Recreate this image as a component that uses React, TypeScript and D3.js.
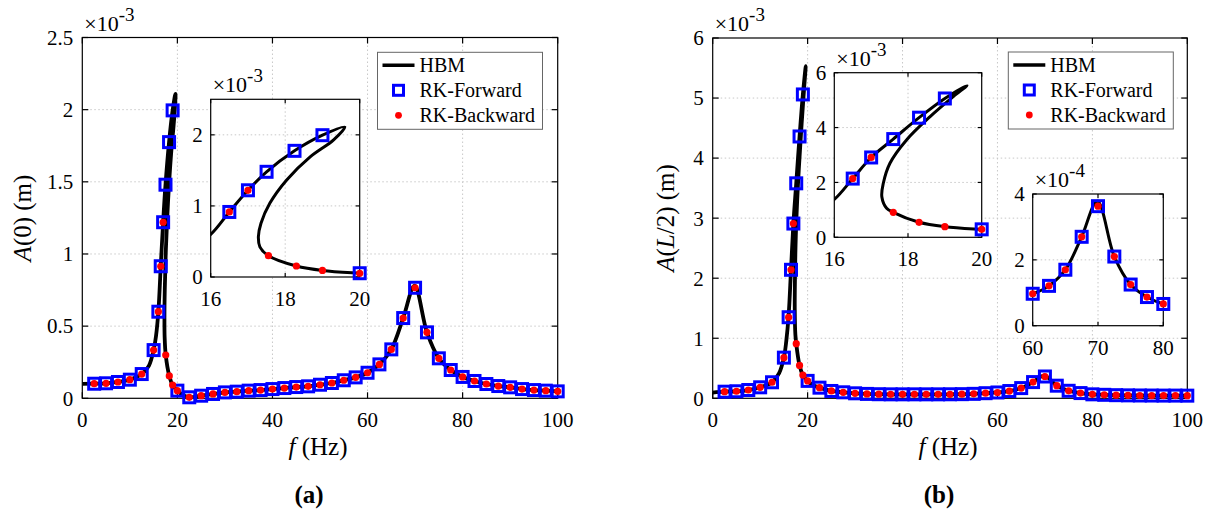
import React, { useEffect, useRef } from "react";
import * as d3 from "d3";

const FONT = "Liberation Serif";

// ---- panel (a): A(0), amplitudes in 1e-3 m ----
const hbmFreqA = [0, 2.5, 5, 7.5, 10, 12.5, 14, 15, 15.5, 16, 16.5, 17, 17.5, 18.25, 19, 19.6,
  19.3, 18.67, 18.04, 17.59, 17.35, 17.28, 17.32, 17.55, 18.3, 19, 20, 21.2, 22.5, 25, 27.5, 30,
  32.5, 35, 37.5, 40, 42.5, 45, 47.5, 50, 52.5, 55, 57.5, 60, 62.5, 65, 67.5, 69.9, 72.5, 75,
  77.5, 80, 82.5, 85, 87.5, 90, 92.5, 95, 97.5, 100];
const hbmAmpA = [0.1, 0.101, 0.104, 0.113, 0.129, 0.168, 0.225, 0.334, 0.43, 0.6, 0.915, 1.22,
  1.48, 1.775, 1.995, 2.11, 1.93, 1.69, 1.366, 1.04, 0.756, 0.566, 0.425, 0.3, 0.155, 0.092,
  0.053, 0.022, 0.007, 0.018, 0.03, 0.041, 0.046, 0.053, 0.057, 0.064, 0.071, 0.078, 0.083,
  0.094, 0.106, 0.125, 0.145, 0.177, 0.235, 0.339, 0.556, 0.78, 0.457, 0.277, 0.196, 0.148,
  0.12, 0.099, 0.085, 0.076, 0.064, 0.057, 0.053, 0.048];

const fwdFreqA = [2.5, 5, 7.5, 10, 12.5, 15, 16, 16.5, 17, 17.5, 18.25, 19, 20, 22.5, 25, 27.5,
  30, 32.5, 35, 37.5, 40, 42.5, 45, 47.5, 50, 52.5, 55, 57.5, 60, 62.5, 65, 67.5, 70, 72.5, 75,
  77.5, 80, 82.5, 85, 87.5, 90, 92.5, 95, 97.5, 100];
const fwdAmpA = [0.101, 0.104, 0.113, 0.129, 0.168, 0.334, 0.6, 0.915, 1.22, 1.48, 1.775, 1.995,
  0.053, 0.007, 0.018, 0.03, 0.041, 0.046, 0.053, 0.057, 0.064, 0.071, 0.078, 0.083, 0.094,
  0.106, 0.125, 0.145, 0.177, 0.235, 0.339, 0.556, 0.766, 0.457, 0.277, 0.196, 0.148, 0.12,
  0.099, 0.085, 0.076, 0.064, 0.057, 0.053, 0.048];

const bwdFreqA = [2.5, 5, 7.5, 10, 12.5, 15, 16, 16.5, 17, 17.55, 18.3, 19, 20, 22.5, 25, 27.5,
  30, 32.5, 35, 37.5, 40, 42.5, 45, 47.5, 50, 52.5, 55, 57.5, 60, 62.5, 65, 67.5, 70, 72.5, 75,
  77.5, 80, 82.5, 85, 87.5, 90, 92.5, 95, 97.5, 100];
const bwdAmpA = [0.101, 0.104, 0.113, 0.129, 0.168, 0.334, 0.6, 0.915, 1.22, 0.3, 0.155, 0.092,
  0.053, 0.007, 0.018, 0.03, 0.041, 0.046, 0.053, 0.057, 0.064, 0.071, 0.078, 0.083, 0.094,
  0.106, 0.125, 0.145, 0.177, 0.235, 0.339, 0.556, 0.766, 0.457, 0.277, 0.196, 0.148, 0.12,
  0.099, 0.085, 0.076, 0.064, 0.057, 0.053, 0.048];

// ---- panel (b): A(L/2), amplitudes in 1e-3 m ----
const hbmFreqB = [0, 2.5, 5, 7.5, 10, 12.5, 14, 15, 15.5, 16, 16.5, 17, 17.6, 18.3, 19, 19.6,
  19.23, 18.6, 17.96, 17.51, 17.33, 17.29, 17.42, 17.6, 18.3, 19, 20, 21, 22.5, 25, 27.5, 30,
  32.5, 35, 37.5, 40, 42.5, 45, 47.5, 50, 52.5, 55, 57.5, 60, 62.5, 65, 67.5, 69.9, 72.5, 75,
  77.5, 80, 82.5, 85, 87.5, 90, 92.5, 95, 97.5, 100];
const hbmAmpB = [0.095, 0.11, 0.117, 0.138, 0.183, 0.267, 0.42, 0.677, 0.95, 1.38, 2.14, 2.91,
  3.58, 4.36, 5.06, 5.53, 5.13, 4.4, 3.55, 2.7, 1.97, 1.48, 1.06, 0.91, 0.547, 0.387, 0.29,
  0.225, 0.177, 0.122, 0.1, 0.083, 0.073, 0.068, 0.066, 0.066, 0.066, 0.066, 0.066, 0.067,
  0.069, 0.074, 0.085, 0.097, 0.121, 0.17, 0.27, 0.378, 0.21, 0.125, 0.087, 0.066, 0.058,
  0.052, 0.049, 0.047, 0.046, 0.045, 0.045, 0.044];

const fwdFreqB = [2.5, 5, 7.5, 10, 12.5, 15, 16, 16.5, 17, 17.6, 18.3, 19, 20, 22.5, 25, 27.5,
  30, 32.5, 35, 37.5, 40, 42.5, 45, 47.5, 50, 52.5, 55, 57.5, 60, 62.5, 65, 67.5, 70, 72.5, 75,
  77.5, 80, 82.5, 85, 87.5, 90, 92.5, 95, 97.5, 100];
const fwdAmpB = [0.11, 0.117, 0.138, 0.183, 0.267, 0.677, 1.35, 2.14, 2.91, 3.58, 4.36, 5.06,
  0.29, 0.177, 0.122, 0.1, 0.083, 0.073, 0.068, 0.066, 0.066, 0.066, 0.066, 0.066, 0.067, 0.069,
  0.074, 0.085, 0.097, 0.121, 0.17, 0.27, 0.363, 0.21, 0.125, 0.087, 0.066, 0.058, 0.052, 0.049,
  0.047, 0.046, 0.045, 0.045, 0.044];

const bwdFreqB = [2.5, 5, 7.5, 10, 12.5, 15, 16, 16.5, 17, 17.6, 18.3, 19, 20, 22.5, 25, 27.5,
  30, 32.5, 35, 37.5, 40, 42.5, 45, 47.5, 50, 52.5, 55, 57.5, 60, 62.5, 65, 67.5, 70, 72.5, 75,
  77.5, 80, 82.5, 85, 87.5, 90, 92.5, 95, 97.5, 100];
const bwdAmpB = [0.11, 0.117, 0.138, 0.183, 0.267, 0.677, 1.35, 2.14, 2.91, 0.91, 0.547, 0.387,
  0.29, 0.177, 0.122, 0.1, 0.083, 0.073, 0.068, 0.066, 0.066, 0.066, 0.066, 0.066, 0.067, 0.069,
  0.074, 0.085, 0.097, 0.121, 0.17, 0.27, 0.363, 0.21, 0.125, 0.087, 0.066, 0.058, 0.052, 0.049,
  0.047, 0.046, 0.045, 0.045, 0.044];

// ---- ticks & labels ----
const xTicksMain = [0, 20, 40, 60, 80, 100];
const yTicksA = [0, 0.5, 1, 1.5, 2, 2.5];
const yTicksB = [0, 1, 2, 3, 4, 5, 6];
const xTicksFold = [16, 18, 20];
const yTicksFoldA = [0, 1, 2];
const yTicksFoldB = [0, 2, 4, 6];
const xTicksPeak = [60, 70, 80];
const yTicksPeak = [0, 2, 4];
const legendLabels = ["HBM", "RK-Forward", "RK-Backward"];

type Pt = [number, number];
const zip = (f: number[], a: number[], k = 1): Pt[] => f.map((v, i) => [v, a[i] * k]);

let clipCount = 0;

function drawAxes(svg: any, o: any) {
  const { left, top, width, height } = o;
  const x = d3.scaleLinear().domain(o.xDomain).range([left, left + width]);
  const y = d3.scaleLinear().domain(o.yDomain).range([top + height, top]);
  const g = svg.append("g");
  const tick = o.tick;

  g.append("rect")
    .attr("x", left).attr("y", top).attr("width", width).attr("height", height)
    .attr("fill", "#fff");

  // dotted grid
  const grid = g.append("g")
    .attr("stroke", "#c8c8c8").attr("stroke-width", 1).attr("stroke-dasharray", "1.5,2.5");
  grid.selectAll("line.gx")
    .data(o.xTicks.filter((t: number) => t > o.xDomain[0] && t < o.xDomain[1]))
    .join("line")
    .attr("x1", (d: number) => x(d)).attr("x2", (d: number) => x(d))
    .attr("y1", top).attr("y2", top + height);
  grid.selectAll("line.gy")
    .data(o.yTicks.filter((t: number) => t > o.yDomain[0] && t < o.yDomain[1]))
    .join("line")
    .attr("x1", left).attr("x2", left + width)
    .attr("y1", (d: number) => y(d)).attr("y2", (d: number) => y(d));

  // box + inward ticks on all sides
  g.append("rect")
    .attr("x", left).attr("y", top).attr("width", width).attr("height", height)
    .attr("fill", "none").attr("stroke", "#000").attr("stroke-width", 1.2);
  const tg = g.append("g").attr("stroke", "#000").attr("stroke-width", 1.2);
  o.xTicks.forEach((t: number) => {
    tg.append("line").attr("x1", x(t)).attr("x2", x(t)).attr("y1", top + height).attr("y2", top + height - tick);
    tg.append("line").attr("x1", x(t)).attr("x2", x(t)).attr("y1", top).attr("y2", top + tick);
  });
  o.yTicks.forEach((t: number) => {
    tg.append("line").attr("x1", left).attr("x2", left + tick).attr("y1", y(t)).attr("y2", y(t));
    tg.append("line").attr("x1", left + width).attr("x2", left + width - tick).attr("y1", y(t)).attr("y2", y(t));
  });

  // tick labels
  g.selectAll("text.xt")
    .data(o.xTicks)
    .join("text")
    .attr("font-family", FONT)
    .attr("x", (d: number) => x(d))
    .attr("y", top + height + 29)
    .attr("text-anchor", "middle")
    .attr("font-size", 21)
    .text((d: number) => String(d));
  g.selectAll("text.yt")
    .data(o.yTicks)
    .join("text")
    .attr("font-family", FONT)
    .attr("x", left - o.ylabGap)
    .attr("y", (d: number) => y(d))
    .attr("dy", "0.35em")
    .attr("text-anchor", "end")
    .attr("font-size", 21)
    .text((d: number) => String(d));

  // exponent label
  const ex = g.append("text")
    .attr("font-family", FONT)
    .attr("x", left + 2).attr("y", top - 7).attr("font-size", 22);
  ex.append("tspan").text("\u00d710");
  ex.append("tspan").attr("dy", -10).attr("font-size", 19).text(o.exp);

  const clipId = `clip${clipCount++}`;
  svg.select("defs").append("clipPath").attr("id", clipId)
    .append("rect").attr("x", left).attr("y", top).attr("width", width).attr("height", height);

  return { g, x, y, clipId };
}

function plotSeries(ax: any, hbm: Pt[], fwd: Pt[], bwd: Pt[], lw: number) {
  const { g, x, y, clipId } = ax;
  const line = d3.line<Pt>()
    .x(d => x(d[0]))
    .y(d => y(d[1]))
    .curve(d3.curveCatmullRom.alpha(0.5));
  g.append("path")
    .datum(hbm)
    .attr("clip-path", `url(#${clipId})`)
    .attr("fill", "none")
    .attr("stroke", "#000")
    .attr("stroke-width", lw)
    .attr("stroke-linejoin", "round")
    .attr("d", line);
  const s = 11;
  g.selectAll("rect.fwd")
    .data(fwd)
    .join("rect")
    .attr("x", (d: Pt) => x(d[0]) - s / 2)
    .attr("y", (d: Pt) => y(d[1]) - s / 2)
    .attr("width", s)
    .attr("height", s)
    .attr("fill", "none")
    .attr("stroke", "#0000ff")
    .attr("stroke-width", 3);
  g.selectAll("circle.bwd")
    .data(bwd)
    .join("circle")
    .attr("cx", (d: Pt) => x(d[0]))
    .attr("cy", (d: Pt) => y(d[1]))
    .attr("r", 3.6)
    .attr("fill", "#ff0000");
}

function drawLegend(svg: any, left: number, top: number) {
  const g = svg.append("g");
  g.append("rect")
    .attr("x", left).attr("y", top).attr("width", 165).attr("height", 77)
    .attr("fill", "#fff").attr("stroke", "#666").attr("stroke-width", 1);
  const rowY = (i: number) => top + 13 + i * 25;
  g.append("line")
    .attr("x1", left + 5).attr("x2", left + 37)
    .attr("y1", rowY(0)).attr("y2", rowY(0))
    .attr("stroke", "#000").attr("stroke-width", 3.5);
  g.append("rect")
    .attr("x", left + 21 - 5).attr("y", rowY(1) - 5).attr("width", 10).attr("height", 10)
    .attr("fill", "none").attr("stroke", "#0000ff").attr("stroke-width", 3);
  g.append("circle")
    .attr("cx", left + 21).attr("cy", rowY(2)).attr("r", 3.4).attr("fill", "#ff0000");
  g.selectAll("text.lg")
    .data(legendLabels)
    .join("text")
    .attr("font-family", FONT)
    .attr("x", left + 42)
    .attr("y", (_: string, i: number) => rowY(i) + 7)
    .attr("font-size", 20)
    .text((d: string) => d);
}

function axisTitles(svg: any, cx: number, ylabX: number, cy: number, yLabel: string, tag: string) {
  const yt = svg.append("text")
    .attr("font-family", FONT)
    .attr("transform", `translate(${ylabX},${cy}) rotate(-90)`)
    .attr("text-anchor", "middle")
    .attr("font-size", 25);
  yt.append("tspan").attr("font-style", "italic").text("A");
  yt.append("tspan").text("(");
  if (yLabel === "0") {
    yt.append("tspan").text("0");
  } else {
    yt.append("tspan").attr("font-style", "italic").text("L");
    yt.append("tspan").text("/2");
  }
  yt.append("tspan").text(") (m)");

  const xt = svg.append("text")
    .attr("font-family", FONT)
    .attr("x", cx).attr("y", 455)
    .attr("text-anchor", "middle")
    .attr("font-size", 25);
  xt.append("tspan").attr("font-style", "italic").text("f");
  xt.append("tspan").text(" (Hz)");

  svg.append("text")
    .attr("font-family", FONT)
    .attr("x", cx - 9).attr("y", 503)
    .attr("text-anchor", "middle")
    .attr("font-size", 25)
    .attr("font-weight", "bold")
    .text(tag);
}

function App() {
  const ref = useRef<SVGSVGElement>(null);

  useEffect(() => {
    const svg = d3.select(ref.current);
    svg.selectAll("*").remove();
    svg.append("defs");
    clipCount = 0;

    const inFold = (d: Pt) => d[0] > 16.2 && d[0] <= 20;
    const inPeak = (d: Pt) => d[0] >= 60 && d[0] <= 80;

    // ---------- (a) ----------
    const hA = zip(hbmFreqA, hbmAmpA);
    const fA = zip(fwdFreqA, fwdAmpA);
    const bA = zip(bwdFreqA, bwdAmpA);
    const mainA = drawAxes(svg, {
      left: 82.3, top: 37.5, width: 475.4, height: 360.8,
      xDomain: [0, 100], yDomain: [0, 2.5], xTicks: xTicksMain, yTicks: yTicksA,
      tick: 6, ylabGap: 9, exp: "-3",
    });
    plotSeries(mainA, hA, fA, bA, 3.8);
    const foldA = drawAxes(svg, {
      left: 210.7, top: 99.3, width: 149, height: 177.7,
      xDomain: [16, 20], yDomain: [0, 2.5], xTicks: xTicksFold, yTicks: yTicksFoldA,
      tick: 4, ylabGap: 8, exp: "-3",
    });
    plotSeries(foldA, hA, fA.filter(inFold), bA.filter(inFold), 3);
    drawLegend(svg, 377.5, 52.3);
    axisTitles(svg, 318, 31, 218, "0", "(a)");

    // ---------- (b) ----------
    const hB = zip(hbmFreqB, hbmAmpB);
    const fB = zip(fwdFreqB, fwdAmpB);
    const bB = zip(bwdFreqB, bwdAmpB);
    const mainB = drawAxes(svg, {
      left: 712.7, top: 38, width: 474.6, height: 360.3,
      xDomain: [0, 100], yDomain: [0, 6], xTicks: xTicksMain, yTicks: yTicksB,
      tick: 6, ylabGap: 9, exp: "-3",
    });
    plotSeries(mainB, hB, fB, bB, 3.8);
    const foldB = drawAxes(svg, {
      left: 834.3, top: 72.7, width: 147.4, height: 164.6,
      xDomain: [16, 20], yDomain: [0, 6], xTicks: xTicksFold, yTicks: yTicksFoldB,
      tick: 4, ylabGap: 8, exp: "-3",
    });
    plotSeries(foldB, hB, fB.filter(inFold), bB.filter(inFold), 3);
    const peakB = drawAxes(svg, {
      left: 1032.7, top: 194, width: 130.6, height: 131.7,
      xDomain: [60, 80], yDomain: [0, 4], xTicks: xTicksPeak, yTicks: yTicksPeak,
      tick: 4, ylabGap: 8, exp: "-4",
    });
    plotSeries(peakB, zip(hbmFreqB, hbmAmpB, 10),
      zip(fwdFreqB, fwdAmpB, 10).filter(inPeak), zip(bwdFreqB, bwdAmpB, 10).filter(inPeak), 3);
    drawLegend(svg, 1008.3, 52);
    axisTitles(svg, 948, 674, 218, "L/2", "(b)");
  }, []);

  return (
    <svg
      ref={ref}
      width={1215}
      height={513}
      style={{ position: "absolute", left: 0, top: 0, background: "#fff" }}
    />
  );
}

export default App;
